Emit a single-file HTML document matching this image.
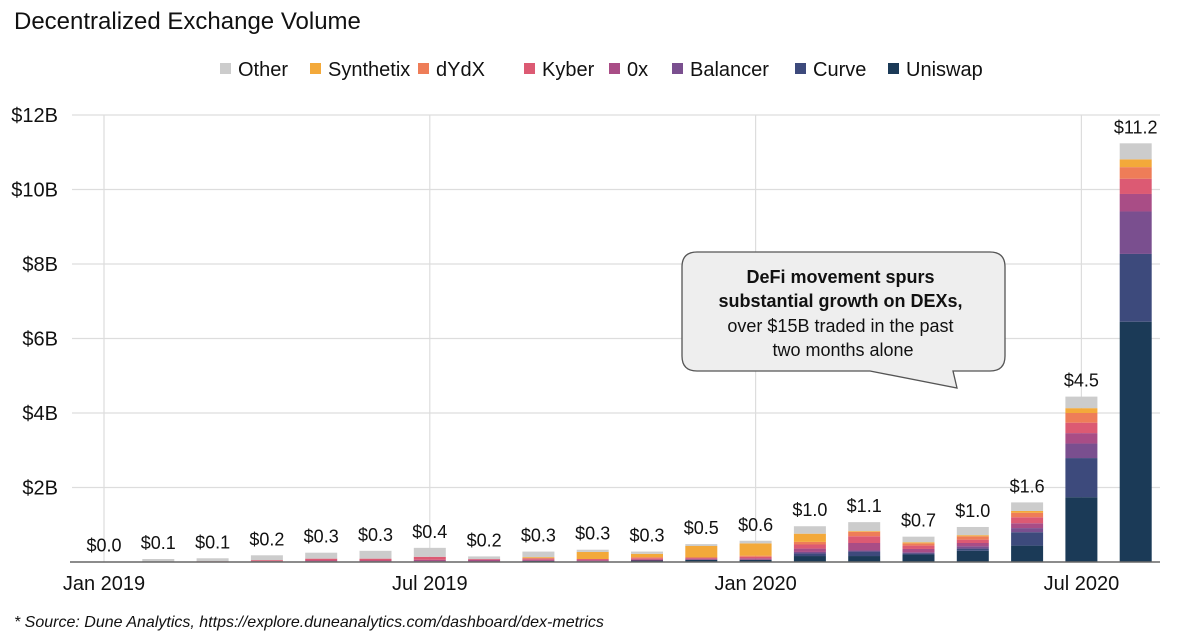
<!DOCTYPE html>
<html><head><meta charset="utf-8"><style>
body{margin:0;background:#fff;width:1180px;height:642px;overflow:hidden;font-family:"Liberation Sans",sans-serif}
svg{display:block}
</style></head><body>
<svg id="c" width="1180" height="642" xmlns="http://www.w3.org/2000/svg">
<text x="14" y="29" font-size="24" fill="#111">Decentralized Exchange Volume</text>
<g id="grid"></g>
<g id="yaxis"></g>
<g id="bars"></g>
<g id="xaxis"></g>
<g id="legend"></g>
<g>
<path d="M697,252 H990 Q1005,252 1005,267 V356 Q1005,371 990,371 H953 L957,388 L870,371 H697 Q682,371 682,356 V267 Q682,252 697,252 Z" fill="#eeeeee" stroke="#555" stroke-width="1.3"/>
<text text-anchor="middle" font-size="18" fill="#111">
<tspan x="843" y="283" font-weight="bold">DeFi movement spurs</tspan>
<tspan x="843" y="307" font-weight="bold">substantial growth on DEXs,</tspan>
<tspan x="843" y="332">over $15B traded in the past</tspan>
<tspan x="843" y="356">two months alone</tspan>
</text>
</g>
<text x="14" y="627" font-size="16" font-style="italic" fill="#111">* Source: Dune Analytics, https://explore.duneanalytics.com/dashboard/dex-metrics</text>
</svg>
<script>
const months=["Jan 2019","Feb 2019","Mar 2019","Apr 2019","May 2019","Jun 2019","Jul 2019","Aug 2019","Sep 2019","Oct 2019","Nov 2019","Dec 2019","Jan 2020","Feb 2020","Mar 2020","Apr 2020","May 2020","Jun 2020","Jul 2020","Aug 2020"];
const seriesNames=["Uniswap","Curve","Balancer","0x","Kyber","dYdX","Synthetix","Other"];
const uniswap=[0,0,0,0.02,0.02,0.02,0.02,0.01,0.03,0.02,0.04,0.06,0.06,0.16,0.16,0.2,0.3,0.44,1.74,6.45];
const curve=[0,0,0,0,0,0,0,0,0,0,0,0,0,0.07,0.12,0.03,0.06,0.36,1.05,1.82];
const balancer=[0,0,0,0,0,0,0,0,0,0,0,0,0,0.04,0.03,0.03,0.06,0.11,0.39,1.14];
const zeroX=[0,0,0,0,0.02,0.02,0.04,0.05,0.03,0.03,0.03,0.03,0.04,0.09,0.2,0.09,0.09,0.13,0.28,0.47];
const kyber=[0.01,0,0.02,0.03,0.05,0.05,0.08,0.02,0.04,0.03,0.03,0.03,0.04,0.11,0.18,0.09,0.09,0.16,0.28,0.41];
const dydx=[0,0,0,0,0,0,0,0,0,0,0.03,0,0.03,0.07,0.12,0.06,0.09,0.12,0.26,0.31];
const synthetix=[0,0,0,0,0,0,0,0,0.03,0.19,0.09,0.31,0.33,0.22,0.02,0.03,0.03,0.05,0.13,0.21];
const other=[0,0.08,0.08,0.13,0.16,0.21,0.24,0.07,0.15,0.06,0.06,0.05,0.07,0.2,0.24,0.15,0.22,0.23,0.31,0.43];
const totalLabels=["$0.0","$0.1","$0.1","$0.2","$0.3","$0.3","$0.4","$0.2","$0.3","$0.3","$0.3","$0.5","$0.6","$1.0","$1.1","$0.7","$1.0","$1.6","$4.5","$11.2"];
const yTicks=[2,4,6,8,10,12];
const yTickLabels=["$2B","$4B","$6B","$8B","$10B","$12B"];
const xTickIdx=[0,6,12,18];
const colors=["#1b3a57","#3d4a7c","#7a4f8f","#a94d86","#dc5a73","#ee7d58","#f3a93a","#cccccc"];
const series=[uniswap,curve,balancer,zeroX,kyber,dydx,synthetix,other];
const NS="http://www.w3.org/2000/svg";
const y0=562,pxPerB=37.25,x0=104,step=54.3,bw=32;
const Y=v=>y0-v*pxPerB, X=i=>x0+i*step;
function mk(t,a,p){const e=document.createElementNS(NS,t);for(const k in a)e.setAttribute(k,a[k]);p.appendChild(e);return e;}
const grid=document.getElementById('grid'),ya=document.getElementById('yaxis'),bars=document.getElementById('bars'),xa=document.getElementById('xaxis'),lg=document.getElementById('legend');
yTicks.forEach((t,i)=>{
 const l=mk('line',{x1:72,x2:1160,y1:Y(t),y2:Y(t),stroke:'#dddddd','stroke-width':1.2},grid);
 
 
 const tx=mk('text',{x:58,y:Y(t)+7,'text-anchor':'end','font-size':20,fill:'#111'},ya);tx.textContent=yTickLabels[i];
 
 
});
xTickIdx.forEach(i=>{
 const l=mk('line',{x1:X(i),x2:X(i),y1:Y(12),y2:y0,stroke:'#dddddd','stroke-width':1.2},grid);
 
 
 const tx=mk('text',{x:X(i),y:590,'text-anchor':'middle','font-size':20,fill:'#111'},xa);tx.textContent=months[i];
 
 
});
months.forEach((m,i)=>{
 let acc=0;
 series.forEach((s,k)=>{
  const v=s[i]; if(v<=0)return;
  const r=mk('rect',{x:X(i)-bw/2,y:Y(acc+v),width:bw,height:v*pxPerB,fill:colors[k]},bars);
  
  
  acc+=v;
 });
 const tx=mk('text',{x:X(i),y:Y(acc)-10,'text-anchor':'middle','font-size':18,fill:'#111'},bars);tx.textContent=totalLabels[i];
 
 
});
const ax=mk('line',{x1:70,x2:1160,y1:y0,y2:y0,stroke:'#666','stroke-width':1.5},xa);


const legX=[220,310,418,524,609,672,795,888];
const legOrder=[7,6,5,4,3,2,1,0];
legOrder.forEach((k,j)=>{
 const g=mk('g',{},lg);
 
 
 mk('rect',{x:legX[j],y:63,width:11,height:11,fill:colors[k]},g);
 const t=mk('text',{x:legX[j]+18,y:76,'font-size':20,fill:'#111'},g);t.textContent=seriesNames[k];
});
</script>
</body></html>
